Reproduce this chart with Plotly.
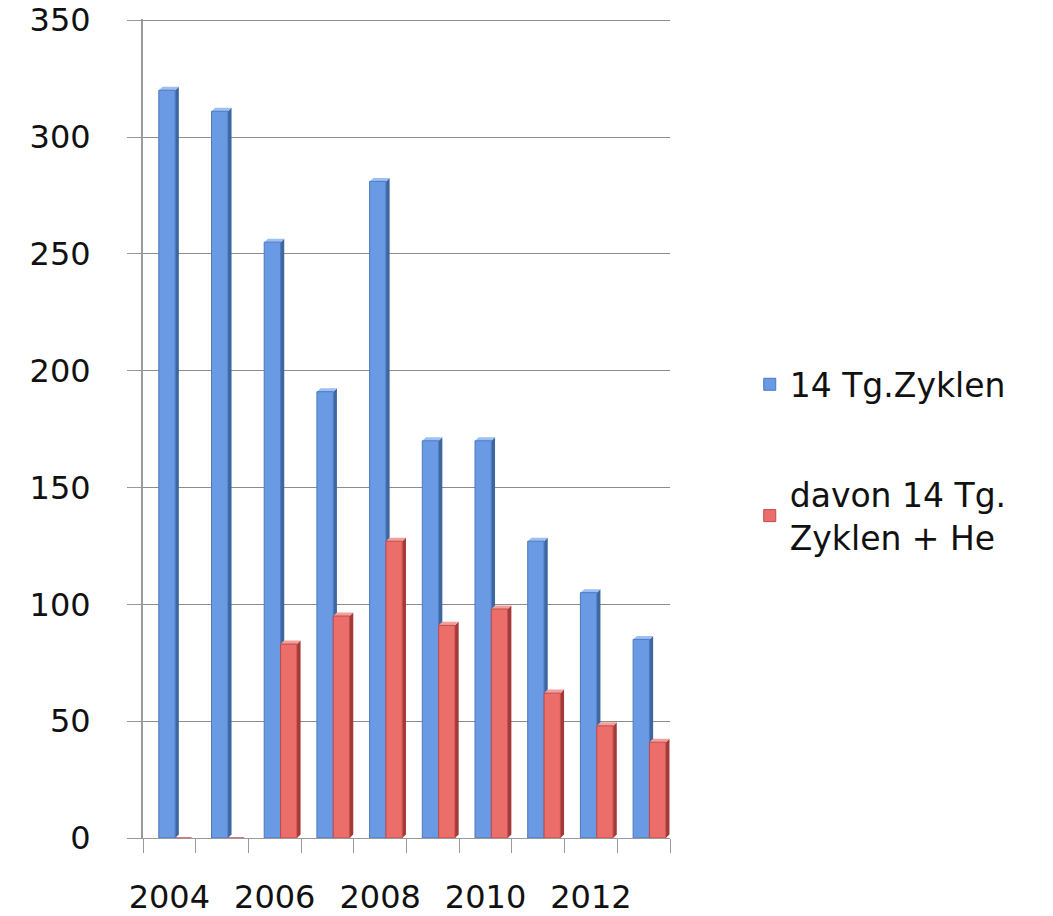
import plotly.graph_objects as go

years = [2004, 2005, 2006, 2007, 2008, 2009, 2010, 2011, 2012, 2013]
zyklen = [320, 311, 255, 191, 281, 170, 170, 127, 105, 85]
zyklen_he = [0, 0, 83, 95, 127, 91, 98, 62, 48, 41]
label_years = [2004, 2006, 2008, 2010, 2012]
y_ticks = [0, 50, 100, 150, 200, 250, 300, 350]

font = "DejaVu Sans"
bar_w = 0.31
blue_off, red_off = -0.2, 0.11
depth_x, depth_y = 0.07, 1.5

fig = go.Figure()
fig.add_trace(go.Bar(
    x=years, y=zyklen, name="14 Tg.Zyklen",
    width=bar_w, offset=blue_off,
    marker=dict(color="#6A9AE4", line=dict(color="#4A78C0", width=1)),
    legendgroup="a",
))
fig.add_trace(go.Bar(
    x=years, y=zyklen_he, name="davon 14 Tg.<br>Zyklen + He",
    width=bar_w, offset=red_off,
    marker=dict(color="#EC6E6B", line=dict(color="#C04A48", width=1)),
    legendgroup="b",
))

# 3D-like side and top faces derived from the data
shapes = []
for series, offset, side_col, top_col in [
    (zyklen, blue_off, "#3F679F", "#9DBFF2"),
    (zyklen_he, red_off, "#A33A38", "#F3A09C"),
]:
    for yr, v in zip(years, series):
        if v <= 0:
            continue
        x0 = yr + offset
        x1 = x0 + bar_w
        shapes.append(dict(
            type="path", xref="x", yref="y", layer="between",
            path=f"M {x1},0 L {x1+depth_x},{depth_y} L {x1+depth_x},{v+depth_y} L {x1},{v} Z",
            fillcolor=side_col, line=dict(width=0),
        ))
        shapes.append(dict(
            type="path", xref="x", yref="y", layer="between",
            path=f"M {x0},{v} L {x0+depth_x},{v+depth_y} L {x1+depth_x},{v+depth_y} L {x1},{v} Z",
            fillcolor=top_col, line=dict(width=0),
        ))

fig.update_layout(
    width=1053, height=916,
    paper_bgcolor="white", plot_bgcolor="white",
    margin=dict(l=143, r=383, t=19, b=78),
    barmode="overlay",
    font=dict(family=font, size=32, color="#111"),
    shapes=shapes,
    legend=dict(
        xref="container", yref="container",
        x=0.712, y=0.611, xanchor="left", yanchor="top",
        font=dict(family=font, size=33, color="#111"),
        tracegroupgap=64, itemwidth=30,
    ),
    xaxis=dict(
        range=[2003.5, 2013.5], automargin=False,
        tickmode="array", tickvals=label_years,
        ticktext=[str(y) for y in label_years],
        ticks="", showgrid=False,
        showline=True, linecolor="#9a9a9a", linewidth=1,
        ticklabelstandoff=31, ticklabeloverflow="allow",
        tickfont=dict(family=font, size=32),
        minor=dict(tickmode="array", tickvals=[y - 0.5 for y in years] + [years[-1] + 0.5],
                   ticks="outside", ticklen=14, tickcolor="#9a9a9a", showgrid=False),
        zeroline=False,
    ),
    yaxis=dict(
        range=[0, 350.5], automargin=False,
        tickmode="array", tickvals=y_ticks,
        ticks="outside", ticklen=14, tickcolor="#9a9a9a",
        showgrid=True, gridcolor="#8c8c8c", gridwidth=1,
        showline=True, linecolor="#9a9a9a", linewidth=2,
        ticklabelstandoff=30, ticklabeloverflow="allow",
        tickfont=dict(family=font, size=32),
        zeroline=False,
    ),
)

fig.write_html(
    "out.html",
    config={"displayModeBar": False},
    post_script="document.body.style.margin='0';document.body.style.overflow='hidden';",
)
